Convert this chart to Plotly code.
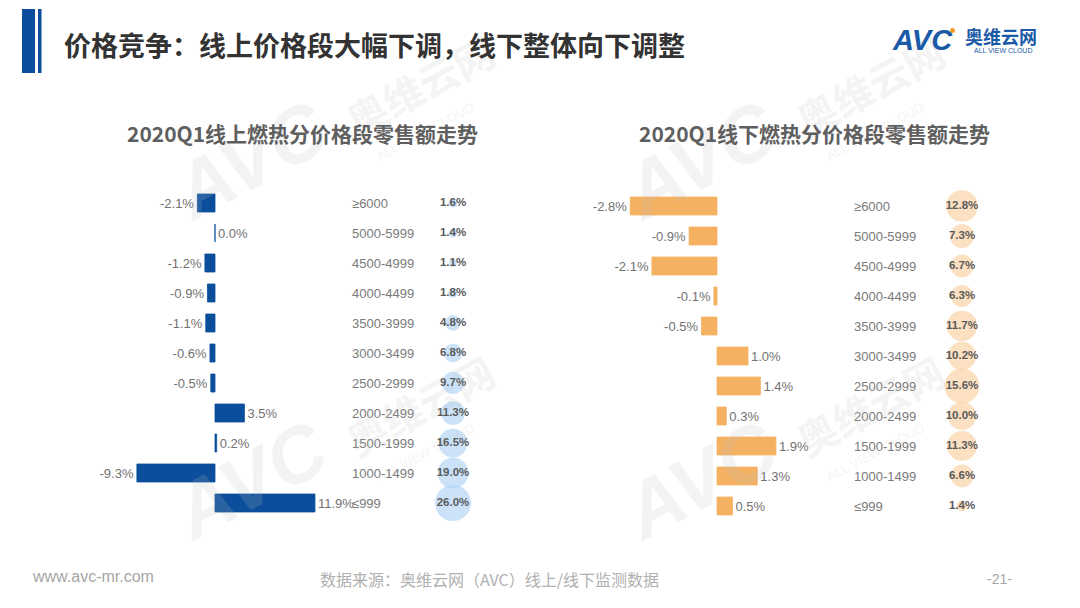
import plotly.graph_objects as go

# ---------------- data ----------------
categories = ["≥6000", "5000-5999", "4500-4999", "4000-4499", "3500-3999", "3000-3499",
              "2500-2999", "2000-2499", "1500-1999", "1000-1499", "≤999"]
online_change = [-2.1, 0.0, -1.2, -0.9, -1.1, -0.6, -0.5, 3.5, 0.2, -9.3, 11.9]
online_share = [1.6, 1.4, 1.1, 1.8, 4.8, 6.8, 9.7, 11.3, 16.5, 19.0, 26.0]
offline_change = [-2.8, -0.9, -2.1, -0.1, -0.5, 1.0, 1.4, 0.3, 1.9, 1.3, 0.5]
offline_share = [12.8, 7.3, 6.7, 6.3, 11.7, 10.2, 15.6, 10.0, 11.3, 6.6, 1.4]

title_main = "价格竞争：线上价格段大幅下调，线下整体向下调整"
title_left = "2020Q1线上燃热分价格段零售额走势"
title_right = "2020Q1线下燃热分价格段零售额走势"
source_text = "数据来源：奥维云网（AVC）线上/线下监测数据"
site_text = "www.avc-mr.com"
page_text = "-21-"

W, H = 1080, 608
CJK = "Noto Sans CJK SC"
SANS = "Liberation Sans"

def px(x):
    return x / W

def py(y):
    return 1 - y / H

BLUE = "#0b4f9c"
ORANGE = "#f5b162"
BLUE_BUB = "#b5d6f6"
ORANGE_BUB = "#f9d3a6"

fig = go.Figure()

# ---- bars ----
fig.add_trace(go.Bar(
    y=categories, x=online_change, orientation="h",
    marker=dict(color=BLUE, line=dict(color=BLUE, width=0.8)),
    text=[f"{v:.1f}%" for v in online_change], textposition="outside",
    textfont=dict(family=SANS, size=13, color="#727272"),
    cliponaxis=False, width=0.6, xaxis="x", yaxis="y", hoverinfo="skip"))
fig.add_trace(go.Bar(
    y=categories, x=offline_change, orientation="h",
    marker=dict(color=ORANGE, line=dict(color=ORANGE, width=0.8)),
    text=[f"{v:.1f}%" for v in offline_change], textposition="outside",
    textfont=dict(family=SANS, size=13, color="#727272"),
    cliponaxis=False, width=0.6, xaxis="x2", yaxis="y2", hoverinfo="skip"))

# ---- bubbles ----
fig.add_trace(go.Scatter(
    y=categories, x=[0] * len(categories), mode="markers+text",
    marker=dict(size=online_share, sizemode="area",
                sizeref=2 * max(online_share) / 36 ** 2, color=BLUE_BUB,
                line=dict(width=0)),
    text=[f"<b>{v:.1f}%</b>" for v in online_share], textposition="middle center",
    textfont=dict(family=SANS, size=11.5, color="#5a5a5a"),
    cliponaxis=False, xaxis="x3", yaxis="y", hoverinfo="skip"))
fig.add_trace(go.Scatter(
    y=categories, x=[0] * len(categories), mode="markers+text",
    marker=dict(size=offline_share, sizemode="area",
                sizeref=2 * max(offline_share) / 35 ** 2, color=ORANGE_BUB,
                line=dict(width=0)),
    text=[f"<b>{v:.1f}%</b>" for v in offline_share], textposition="middle center",
    textfont=dict(family=SANS, size=11.5, color="#5a5a5a"),
    cliponaxis=False, xaxis="x4", yaxis="y2", hoverinfo="skip"))

hidden_x = dict(showgrid=False, zeroline=False, showticklabels=False, showline=False,
                ticks="", fixedrange=True)

# left bars: zero at 215px, 8.4 px per %
l_lo, l_hi, l_k, l_zero = -12, 14, 8.4, 215
# right bars: zero at 717px, 31 px per %
r_lo, r_hi, r_k, r_zero = -3.5, 2.5, 31.0, 717

cat_axis = dict(type="category", categoryorder="array", categoryarray=categories,
                showgrid=False, zeroline=False, showline=False,
                ticks="", side="right", anchor="free", range=[10.5, -0.5],
                tickfont=dict(family=SANS, size=13, color="#7a7a7a"), fixedrange=True)

fig.update_layout(
    width=W, height=H, margin=dict(l=0, r=0, t=0, b=0),
    paper_bgcolor="white", plot_bgcolor="rgba(0,0,0,0)",
    showlegend=False, bargap=0.4,
    xaxis=dict(hidden_x, range=[l_lo, l_hi],
               domain=[px(l_zero + l_lo * l_k), px(l_zero + l_hi * l_k)], anchor="y"),
    xaxis2=dict(hidden_x, range=[r_lo, r_hi],
                domain=[px(r_zero + r_lo * r_k), px(r_zero + r_hi * r_k)], anchor="y2"),
    xaxis3=dict(hidden_x, range=[-1, 1], domain=[px(443), px(463)], anchor="y"),
    xaxis4=dict(hidden_x, range=[-1, 1], domain=[px(952), px(972)], anchor="y2"),
    yaxis=dict(cat_axis, domain=[py(518), py(188)], position=px(351)),
    yaxis2=dict(cat_axis, domain=[py(521), py(191)], position=px(853)),
)

shapes = [
    dict(type="rect", xref="paper", yref="paper", x0=px(22), x1=px(35), y0=py(73), y1=py(9),
         fillcolor="#0b4f9c", line=dict(width=0)),
    dict(type="rect", xref="paper", yref="paper", x0=px(38), x1=px(41.5), y0=py(73), y1=py(9),
         fillcolor="#0b4f9c", line=dict(width=0)),
    # logo dot
    dict(type="circle", xref="paper", yref="paper", x0=px(950), x1=px(955), y0=py(33), y1=py(28),
         fillcolor="#f39a2b", line=dict(width=0)),
]

ann = []
def text(x, y, s, size, color, family=CJK, xanchor="left", yanchor="middle", angle=0):
    ann.append(dict(x=px(x), y=py(y), xref="paper", yref="paper", text=s, showarrow=False,
                    xanchor=xanchor, yanchor=yanchor, textangle=angle,
                    font=dict(family=family, size=size, color=color)))

# watermarks (faint)
wm = "rgba(190,190,190,0.18)"
for (wx, wy) in [(250, 160), (250, 480), (700, 160), (700, 480)]:
    text(wx, wy, "<b><i>AVC</i></b>", 78, wm, family=SANS, xanchor="center", angle=-28)
    text(wx + 170, wy - 75, "<b>奥维云网</b>", 40, wm, xanchor="center", angle=-28)
    text(wx + 175, wy - 28, "ALL VIEW CLOUD", 13, wm, family=SANS, xanchor="center", angle=-28)

text(62, 44, f"<b>{title_main}</b>", 27, "#333333")
text(302, 133, f"<b>{title_left}</b>", 21, "#5f5f5f", xanchor="center")
text(814, 133, f"<b>{title_right}</b>", 21, "#5f5f5f", xanchor="center")

# logo
text(890, 40, "<b><i>AVC</i></b>", 29, "#1a5aa6", family=SANS)
text(963, 36, "<b>奥维云网</b>", 18, "#1a5aa6")
text(972, 51, "ALL VIEW CLOUD", 7, "#1a5aa6", family=SANS)

# footer
text(30, 576, site_text, 16, "#a6a6a6", family=SANS)
text(489, 579, source_text, 16, "#b0b0b0", xanchor="center")
text(999, 579, page_text, 14, "#a6a6a6", family=SANS, xanchor="center")

fig.update_layout(shapes=shapes, annotations=ann)

fig.write_html("out.html", config={"displayModeBar": False},
               post_script="document.body.style.margin='0px';")
